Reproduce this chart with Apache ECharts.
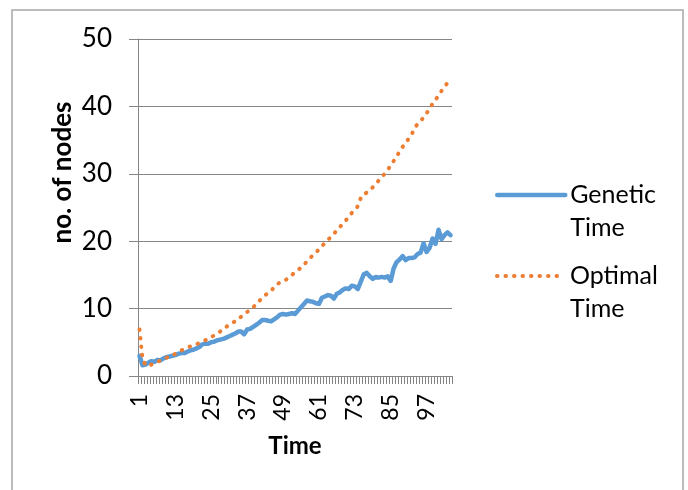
<!DOCTYPE html>
<html>
<head>
<meta charset="utf-8">
<script src="https://cdn.jsdelivr.net/npm/echarts@6/dist/echarts.min.js"></script>
<style>html,body{margin:0;padding:0;background:#fff}#c{width:688px;height:490px}</style>
</head>
<body>
<div id="c"></div>
<script>
// Categories: time steps 1..105
var categories = [];
for (var k = 1; k <= 105; k++) categories.push(String(k));

var geneticTime = [
  3.0,1.6,1.7,2.0,2.2,2.1,2.4,2.3,2.6,2.8,
  2.9,3.0,3.1,3.3,3.4,3.4,3.6,3.8,3.9,4.1,
  4.3,4.7,4.8,4.8,5.0,5.1,5.3,5.4,5.5,5.7,
  5.9,6.1,6.3,6.6,6.6,6.2,6.9,7.0,7.3,7.6,
  7.9,8.3,8.3,8.2,8.1,8.4,8.7,9.1,9.2,9.1,
  9.2,9.3,9.2,9.7,10.2,10.7,11.2,11.1,11.0,10.8,
  10.7,11.6,11.8,12.0,11.9,11.5,12.2,12.4,12.8,13.0,
  12.9,13.4,13.3,12.9,14.0,15.1,15.3,14.8,14.4,14.7,
  14.6,14.7,14.6,14.8,14.1,16.0,16.9,17.3,17.8,17.2,
  17.5,17.5,17.6,18.1,18.3,19.7,18.4,19.0,20.4,19.6,
  21.7,20.3,20.9,21.3,20.9
];

var optimalTime = [
  6.9,2.6,1.6,1.5,1.7,1.9,2.1,2.3,2.5,2.7,
  2.9,3.1,3.3,3.6,3.8,4.0,4.2,4.4,4.5,4.7,
  4.9,5.1,5.3,5.5,5.8,6.0,6.3,6.6,6.9,7.3,
  7.6,7.9,8.1,8.5,8.8,9.2,9.5,9.8,10.2,10.6,
  11.1,11.6,12.0,12.3,12.6,13.2,13.6,13.9,14.1,14.3,
  14.6,15.0,15.4,15.7,16.1,16.5,17.0,17.5,17.9,18.3,
  18.8,19.3,19.7,20.2,20.6,21.1,21.6,22.1,22.6,23.1,
  23.6,24.2,24.6,25.2,26.4,27.0,27.2,27.5,28.0,28.5,
  29.0,29.5,30.0,30.6,31.2,31.9,32.6,33.3,34.0,34.6,
  35.2,35.8,36.8,37.4,37.8,38.4,39.0,39.6,40.4,41.0,
  41.6,42.3,42.9,43.5,44.1
];

var seriesNames = ['Genetic Time', 'Optimal Time'];
var yTicks = [0, 10, 20, 30, 40, 50];

var BLUE = '#5B9BD5', ORANGE = '#ED7D31';
var FONT = 'Lato';
var DOTS = [0.5, 8];
var chart = echarts.init(document.getElementById('c'), null, {renderer: 'canvas'});

function legendCfg(name, top, lineStyle) {
  return {
    data: [name],
    orient: 'vertical',
    left: 495,
    top: top,
    padding: 0,
    itemWidth: 68,
    itemHeight: 14,
    selectedMode: false,
    itemStyle: {opacity: 0},
    lineStyle: lineStyle,
    formatter: function (n) { return ' \n' + n.replace(' ', '\n'); },
    textStyle: {fontFamily: FONT, fontSize: 25, color: '#000', lineHeight: 33}
  };
}

chart.setOption({
  animation: false,
  backgroundColor: '#fff',
  graphic: [{
    type: 'rect', silent: true,
    shape: {x: 12, y: 10, width: 671, height: 500},
    style: {fill: 'none', stroke: '#A6A6A6', lineWidth: 1.5}
  }],
  grid: {left: 138, right: 236, top: 39, bottom: 114},
  legend: [
    legendCfg(seriesNames[0], 195 - 49.5, {color: BLUE, width: 4.5, cap: 'round'}),
    legendCfg(seriesNames[1], 276 - 49.5, {color: ORANGE, width: 4, type: DOTS, cap: 'round'})
  ],
  xAxis: {
    type: 'category',
    data: categories,
    boundaryGap: true,
    name: 'Time',
    nameLocation: 'middle',
    nameGap: 58,
    nameTextStyle: {fontFamily: FONT, fontSize: 24, fontWeight: 'bold', color: '#000'},
    axisLine: {lineStyle: {color: '#868686', width: 1}},
    axisTick: {show: true, interval: 0, length: 8, lineStyle: {color: '#868686'}},
    axisLabel: {interval: 11, rotate: 90, margin: 18, fontFamily: FONT, fontSize: 23, color: '#000'},
    splitLine: {show: false}
  },
  yAxis: {
    type: 'value',
    min: yTicks[0],
    max: yTicks[yTicks.length - 1],
    interval: 10,
    name: 'no. of nodes',
    nameLocation: 'middle',
    nameGap: 62,
    nameTextStyle: {fontFamily: FONT, fontSize: 26, fontWeight: 'bold', color: '#000', padding: [0, 0, 0, 70]},
    axisLine: {show: true, lineStyle: {color: '#868686', width: 1}},
    axisTick: {show: true, length: 9, lineStyle: {color: '#868686'}},
    axisLabel: {margin: 26, fontFamily: FONT, fontSize: 26, color: '#000'},
    splitLine: {show: true, lineStyle: {color: '#868686', width: 1}}
  },
  series: [
    {
      name: seriesNames[0], type: 'line', data: geneticTime,
      symbol: 'none', smooth: false,
      itemStyle: {color: BLUE},
      lineStyle: {color: BLUE, width: 4.5, cap: 'round', join: 'round'}
    },
    {
      name: seriesNames[1], type: 'line', data: optimalTime,
      symbol: 'none', smooth: false,
      itemStyle: {color: ORANGE},
      lineStyle: {color: ORANGE, width: 4, type: DOTS, cap: 'round'}
    }
  ]
});
</script>
</body>
</html>
